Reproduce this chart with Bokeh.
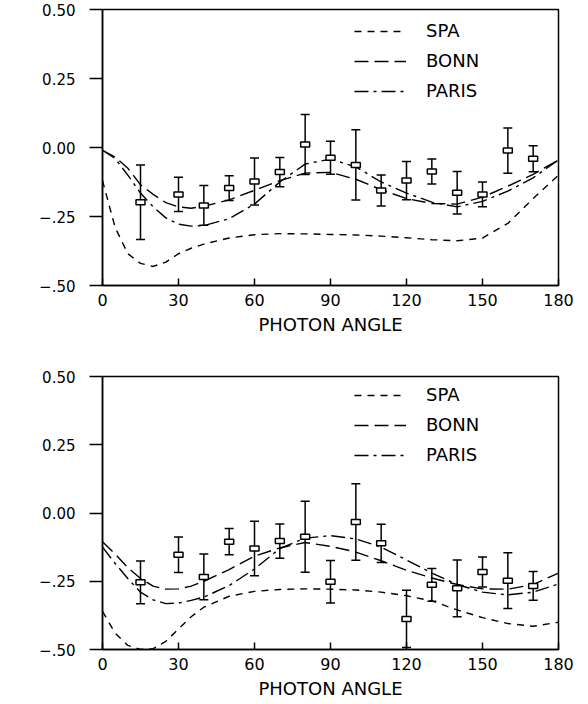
from bokeh.plotting import figure
from bokeh.models import (Range1d, Whisker, TeeHead, ColumnDataSource, Legend, LegendItem)
from bokeh.layouts import column
from bokeh.embed import file_html
from bokeh.resources import INLINE

# ---------------- data ----------------
angles = [15, 30, 40, 50, 60, 70, 80, 90, 100, 110, 120, 130, 140, 150, 160, 170]

top_y = [-0.198, -0.170, -0.210, -0.147, -0.123, -0.089, 0.011, -0.037,
         -0.063, -0.156, -0.120, -0.087, -0.164, -0.170, -0.011, -0.041]
top_err = [0.135, 0.062, 0.072, 0.045, 0.085, 0.053, 0.109, 0.060,
           0.127, 0.056, 0.069, 0.045, 0.077, 0.045, 0.082, 0.047]

bot_y = [-0.254, -0.153, -0.234, -0.105, -0.130, -0.103, -0.087, -0.252,
         -0.033, -0.111, -0.388, -0.263, -0.276, -0.216, -0.248, -0.267]
bot_err = [0.078, 0.065, 0.084, 0.048, 0.100, 0.063, 0.130, 0.078,
           0.140, 0.070, 0.105, 0.060, 0.104, 0.055, 0.102, 0.053]

curve_x = [0, 5, 10, 15, 20, 25, 30, 35, 40, 50, 60, 70, 80, 90, 100,
           110, 120, 130, 140, 150, 160, 170, 180]

top_spa = [-0.12, -0.29, -0.385, -0.42, -0.431, -0.415, -0.385, -0.365, -0.35,
           -0.328, -0.316, -0.312, -0.313, -0.315, -0.317, -0.321, -0.327,
           -0.334, -0.338, -0.328, -0.275, -0.185, -0.10]
top_bonn = [-0.01, -0.035, -0.075, -0.135, -0.17, -0.20, -0.215, -0.22, -0.213,
            -0.19, -0.155, -0.12, -0.093, -0.09, -0.115, -0.153, -0.185,
            -0.203, -0.205, -0.18, -0.14, -0.097, -0.045]
top_paris = [-0.01, -0.04, -0.10, -0.165, -0.215, -0.255, -0.278, -0.285, -0.283,
             -0.258, -0.205, -0.125, -0.06, -0.042, -0.07, -0.125, -0.165,
             -0.198, -0.215, -0.195, -0.158, -0.11, -0.045]

bot_spa = [-0.36, -0.44, -0.485, -0.50, -0.497, -0.47, -0.425, -0.38, -0.345,
           -0.305, -0.287, -0.28, -0.278, -0.279, -0.282, -0.29, -0.303,
           -0.322, -0.355, -0.383, -0.405, -0.415, -0.40]
bot_bonn = [-0.105, -0.15, -0.20, -0.24, -0.268, -0.279, -0.278, -0.268, -0.25,
            -0.207, -0.158, -0.128, -0.108, -0.122, -0.143, -0.175, -0.21,
            -0.238, -0.262, -0.278, -0.279, -0.262, -0.22]
bot_paris = [-0.125, -0.185, -0.24, -0.29, -0.318, -0.332, -0.33, -0.32, -0.308,
             -0.266, -0.205, -0.13, -0.092, -0.083, -0.095, -0.125, -0.172,
             -0.22, -0.262, -0.29, -0.30, -0.29, -0.26]

x_ticks = [0, 30, 60, 90, 120, 150, 180]
y_ticks = [-0.5, -0.25, 0.0, 0.25, 0.5]
y_tick_labels = ["\u2212.50", "\u2212.25", "0.00", "0.25", "0.50"]
x_label = "PHOTON ANGLE"
series_names = ["SPA", "BONN", "PARIS"]

FONT = "DejaVu Sans"
DASHES = {"SPA": "7 6", "BONN": "14 6", "PARIS": "14 5 3 5"}


def make_panel(height, border_top, border_bottom, frame_h, pts_y, pts_err,
               spa, bonn, paris, legend_top):
    p = figure(width=580, height=height, output_backend="svg",
               toolbar_location=None,
               x_range=Range1d(0, 180), y_range=Range1d(-0.5, 0.5),
               min_border_left=102, min_border_right=22,
               min_border_top=border_top, min_border_bottom=border_bottom)
    p.grid.visible = False
    p.outline_line_color = "black"
    p.outline_line_width = 1.5
    p.background_fill_color = "white"
    p.border_fill_color = "white"

    xa = p.xaxis[0]
    xa.ticker = x_ticks
    xa.axis_label = x_label
    xa.axis_label_text_font = FONT
    xa.axis_label_text_font_style = "normal"
    xa.axis_label_text_font_size = "18px"
    xa.axis_label_text_color = "black"
    xa.axis_label_standoff = 5
    xa.major_label_text_font = FONT
    xa.major_label_text_font_size = "16px"
    xa.major_label_text_color = "black"
    xa.major_label_standoff = 8
    xa.major_tick_in = 7
    xa.major_tick_out = 0
    xa.minor_tick_in = 0
    xa.minor_tick_out = 0
    xa.axis_line_width = 1.5
    xa.axis_line_color = "black"
    xa.major_tick_line_width = 1.5
    xa.major_tick_line_color = "black"

    ya = p.yaxis[0]
    ya.ticker = y_ticks
    ya.major_label_overrides = {t: l for t, l in zip(y_ticks, y_tick_labels)}
    ya.major_label_text_font = FONT
    ya.major_label_text_font_size = "15px"
    ya.major_label_text_color = "black"
    ya.major_label_standoff = 14
    ya.major_tick_in = 0
    ya.major_tick_out = 13
    ya.minor_tick_in = 0
    ya.minor_tick_out = 0
    ya.axis_line_width = 1.5
    ya.axis_line_color = "black"
    ya.major_tick_line_width = 1.5
    ya.major_tick_line_color = "black"

    r_spa = p.line(curve_x, spa, line_color="black", line_width=1.4,
                   line_dash=DASHES["SPA"])
    r_bonn = p.line(curve_x, bonn, line_color="black", line_width=1.4,
                    line_dash=DASHES["BONN"])
    r_paris = p.line(curve_x, paris, line_color="black", line_width=1.4,
                     line_dash=DASHES["PARIS"])

    src = ColumnDataSource(dict(
        x=angles, y=pts_y,
        upper=[v + e for v, e in zip(pts_y, pts_err)],
        lower=[v - e for v, e in zip(pts_y, pts_err)]))
    w = Whisker(source=src, base="x", upper="upper", lower="lower",
                dimension="height", line_color="black", line_width=1.5,
                upper_head=TeeHead(size=9, line_color="black", line_width=1.5),
                lower_head=TeeHead(size=9, line_color="black", line_width=1.5),
                level="underlay")
    p.add_layout(w)
    p.rect("x", "y", source=src, width=9, height=5, width_units="screen",
           height_units="screen", fill_color="white", line_color="black",
           line_width=1.5)

    items = [LegendItem(label=n, renderers=[r])
             for n, r in zip(series_names, [r_spa, r_bonn, r_paris])]
    leg_h = 3 * 20 + 2 * 9
    legend = Legend(items=items, location=(252, frame_h - legend_top - leg_h),
                    glyph_width=52, glyph_height=20, label_height=20,
                    label_standoff=20, spacing=9, padding=0, margin=0,
                    label_text_font=FONT, label_text_font_size="18px",
                    label_text_color="black",
                    border_line_alpha=0, background_fill_alpha=0)
    p.add_layout(legend, "center")
    return p


p1 = make_panel(368, 9, 83, 276, top_y, top_err, top_spa, top_bonn, top_paris, 14)
p2 = make_panel(333, 8, 50, 275, bot_y, bot_err, bot_spa, bot_bonn, bot_paris, 13)

layout = column(p1, p2, spacing=0)
open("out.html", "w").write(file_html(layout, INLINE))
